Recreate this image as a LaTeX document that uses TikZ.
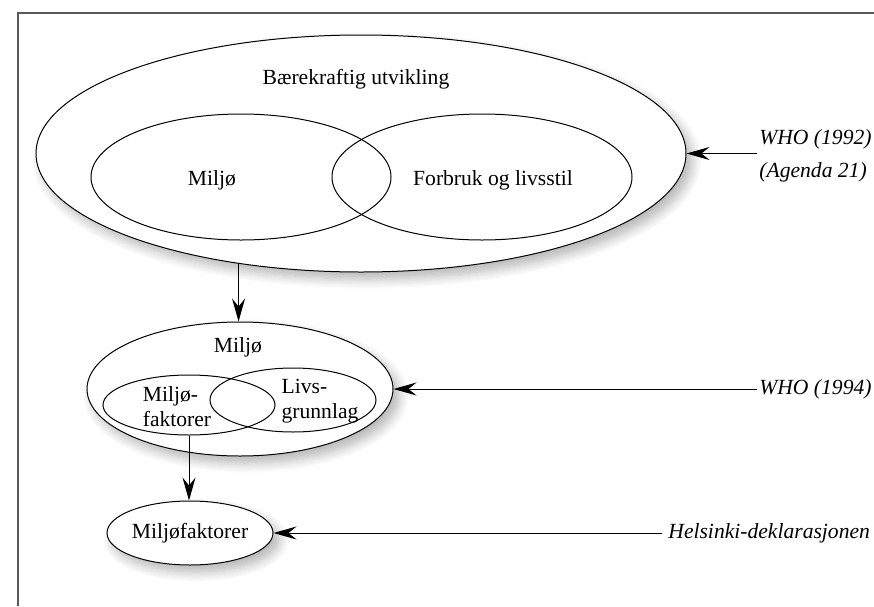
\documentclass[tikz,border=0pt]{standalone}
\usepackage{fontspec}
\setmainfont{Liberation Serif}
\usetikzlibrary{arrows.meta,shapes.geometric,shadows.blur}

\tikzset{
  ring/.style={draw, ellipse, inner sep=0pt, line width=0.5pt},
  shell/.style={ring, fill=white,
    blur shadow={shadow xshift=3pt, shadow yshift=-3.5pt, shadow blur radius=5pt, shadow blur steps=10, shadow opacity=30}},
  txt/.style={inner sep=0pt, font=\fontsize{10.8}{12.5}\selectfont, align=left},
  src/.style={inner sep=0pt, font=\fontsize{10.8}{16.5}\selectfont\itshape, align=left},
  arr/.style={line width=0.5pt, -{Stealth[length=11.5pt, width=6.5pt, inset=4pt]}},
}

\begin{document}
\begin{tikzpicture}[x=0.5pt, y=-0.5pt]
      \useasboundingbox (0,0) rectangle (874,606);
      % frame
      \draw[gray!70!black, line width=0.6pt] (18,606) -- (18,13) -- (874,13);

      % upper level
      \node[shell, minimum width=325pt, minimum height=118.5pt] (sus) at (361,153.5) {};
      \node[ring, minimum width=150pt, minimum height=63pt] (env) at (241,177) {};
      \node[ring, minimum width=150pt, minimum height=63pt] (life) at (482,177) {};
      \node[txt] (susT) at (356,79) {Bærekraftig utvikling};
      \node[txt] (envT) at (212,180) {Miljø};
      \node[txt] (lifeT) at (493,180) {Forbruk og livsstil};

      % middle level
      \node[shell, minimum width=153pt, minimum height=67pt] (mid) at (240,389) {};
      \node[ring, minimum width=86pt, minimum height=30pt] (fac) at (189,405) {};
      \node[ring, minimum width=83pt, minimum height=32pt] (base) at (293,400) {};
      \node[txt] (midT) at (238,347) {Miljø};
      \node[txt] (facT) at (177,407) {Miljø-\\faktorer};
      \node[txt] (baseT) at (320,401) {Livs-\\grunnlag};

      % lower level
      \node[shell, minimum width=83pt, minimum height=32pt] (bot) at (190,533) {};
      \node[txt] (botT) at (bot) {Miljøfaktorer};

      % sources
      \node[src, anchor=west] (who92) at (759,156) {WHO (1992)\\(Agenda 21)};
      \coordinate (c92) at (757,153.5);
      \node[src, anchor=west] (who94) at (759,389) {WHO (1994)};
      \node[src, anchor=west] (hel) at (668,533) {Helsinki-deklarasjonen};

      % arrows
      \draw[arr] (sus.222) -- (sus.222 |- mid.north);
      \draw[arr] (fac.south) -- (fac.south |- bot.north);
      \draw[arr] (c92) -- (sus.east);
      \draw[arr] ([xshift=-1pt]who94.west) -- (mid.east);
      \draw[arr] ([xshift=-3pt]hel.west) -- (bot.east);
\end{tikzpicture}
\end{document}
